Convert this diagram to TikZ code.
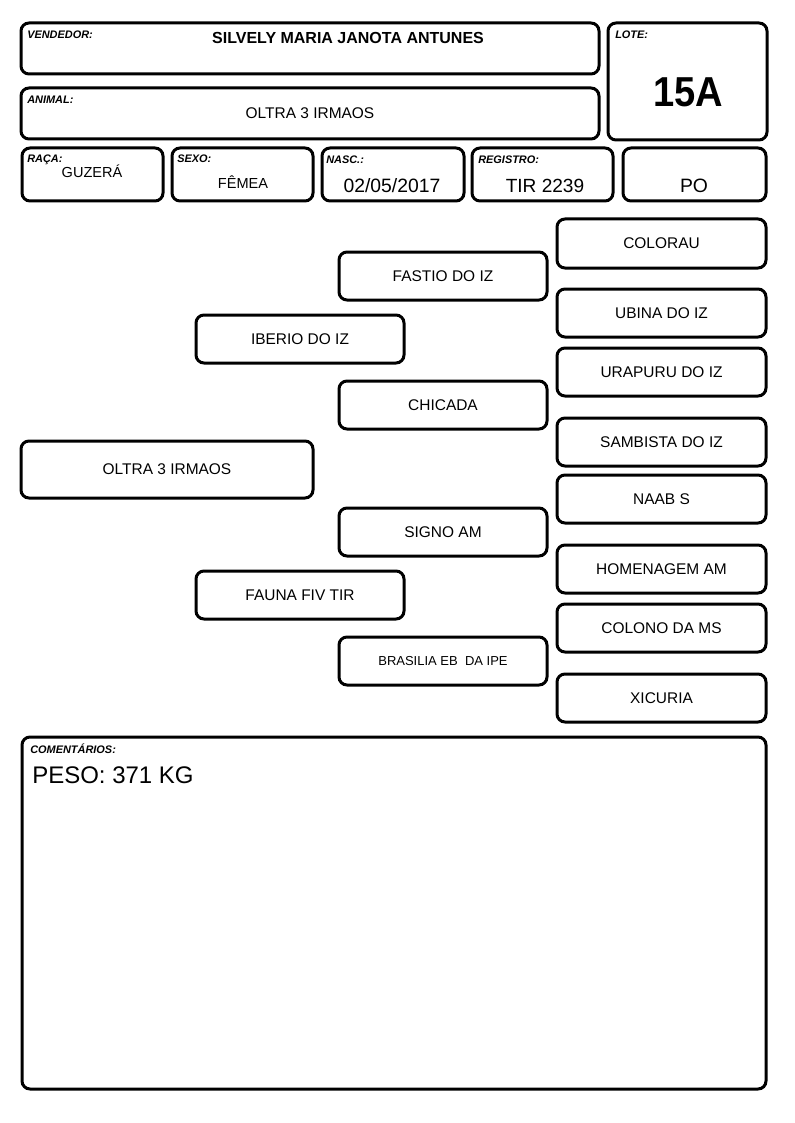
\documentclass[tikz,border=0pt]{standalone}
\usepackage{fontspec}
\usepackage{graphicx}
\setmainfont{Liberation Sans}
\newcommand\fs[1]{\fontsize{#1}{#1}\selectfont}
\newcommand\bx[7][]{\node[box,#1,minimum width={(#5-#3)*0.75pt},minimum height={(#6-#4)*0.75pt}] (#2) at ({(#3+#5)/2},{(#4+#6)/2}) {#7};}
\tikzset{
  box/.style={draw=black, line width=2.25pt, rounded corners=6pt, inner sep=0pt, fill=white},
  lbl/.style={anchor=base west, inner sep=0pt, font=\fs{8.2pt}\bfseries\itshape},
  val/.style={anchor=base, inner sep=0pt},
  ped/.style={font=\fs{11.6pt}}
}
\begin{document}
\begin{tikzpicture}[x=0.75pt,y=-0.75pt]
\useasboundingbox (0,0) rectangle (794,1123);
% header
\bx{vend}{21}{23}{599}{74}{}
\bx{anim}{21}{88}{599}{139}{}
\bx{lote}{608}{23}{767}{140}{}
\bx{raca}{22}{148}{163}{201}{}
\bx{sexo}{172}{148}{313}{201}{}
\bx{nasc}{322}{148}{464}{201}{}
\bx{reg}{472}{148}{613}{201}{}
\bx{po}{623}{148}{766}{201}{}
\node[lbl] (lvend) at (27,39) {VENDEDOR:};
\node[val,font=\fs{12pt}\bfseries] (tvend) at (348,44) {SILVELY MARIA JANOTA ANTUNES};
\node[lbl] (lanim) at (27,104) {ANIMAL:};
\node[val,font=\fs{11.6pt}] (tanim) at (anim.center |- 0,119) {OLTRA 3 IRMAOS};
\node[lbl] (llote) at (615,39) {LOTE:};
\node[val,font=\fs{31.4pt}\bfseries] (tlote) at (688,107) {\scalebox{0.91}[1]{15A}};
\node[lbl] (lraca) at (27,163) {RAÇA:};
\node[val,font=\fs{10.9pt}] (traca) at (92,178) {GUZERÁ};
\node[lbl] (lsexo) at (177,163) {SEXO:};
\node[val,font=\fs{10.9pt}] (tsexo) at (243,189) {FÊMEA};
\node[lbl] (lnasc) at (326,164) {NASC.:};
\node[val,font=\fs{14.5pt}] (tnasc) at (392,193) {02/05/2017};
\node[lbl] (lreg) at (478,164) {REGISTRO:};
\node[val,font=\fs{14.3pt}] (treg) at (545,193) {TIR 2239};
\node[val,font=\fs{14.5pt}] (tpo) at (694,193) {PO};
% pedigree
\bx[ped]{colorau}{557}{219}{766}{268}{COLORAU}
\bx[ped]{fastio}{339}{252}{547}{300}{FASTIO DO IZ}
\bx[ped]{ubina}{557}{289}{766}{337}{UBINA DO IZ}
\bx[ped]{iberio}{196}{315}{404}{363}{IBERIO DO IZ}
\bx[ped]{urapuru}{557}{348}{766}{396}{URAPURU DO IZ}
\bx[ped]{chicada}{339}{381}{547}{429}{CHICADA}
\bx[ped]{sambista}{557}{418}{766}{466}{SAMBISTA DO IZ}
\bx[ped]{oltra}{21}{441}{313}{498}{OLTRA 3 IRMAOS}
\bx[ped]{naab}{557}{475}{766}{523}{NAAB S}
\bx[ped]{signo}{339}{508}{547}{556}{SIGNO AM}
\bx[ped]{homenagem}{557}{545}{766}{593}{HOMENAGEM AM}
\bx[ped]{fauna}{196}{571}{404}{619}{FAUNA FIV TIR}
\bx[ped]{colono}{557}{604}{766}{652}{COLONO DA MS}
\bx[ped,font=\fs{9.75pt}]{brasilia}{339}{637}{547}{685}{BRASILIA EB\ \ DA IPE}
\bx[ped]{xicuria}{557}{674}{766}{722}{XICURIA}
% comments
\bx{coment}{22}{737}{766}{1089}{}
\node[lbl] (lcoment) at (30,753) {COMENTÁRIOS:};
\node[anchor=base west,inner sep=0pt,font=\fs{18pt}] (peso) at (32,783) {PESO: 371 KG};
\end{tikzpicture}
\end{document}
